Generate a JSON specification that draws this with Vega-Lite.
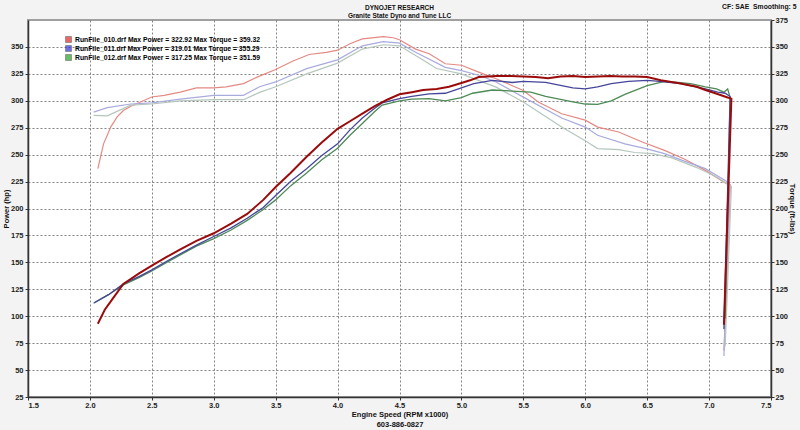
{
  "$schema": "https://vega.github.io/schema/vega-lite/v6.json",
  "width": 743,
  "height": 377,
  "autosize": {"type": "none"},
  "padding": {"left": 28, "top": 20, "right": 29, "bottom": 33},
  "background": "#f3f3f3",
  "title": {
    "text": "DYNOJET RESEARCH",
    "subtitle": "Granite State Dyno and Tune LLC",
    "anchor": "middle",
    "font": "Liberation Sans",
    "fontSize": 6.5,
    "fontWeight": "bold",
    "color": "#111",
    "lineHeight": 8,
    "subtitleFont": "Liberation Sans",
    "subtitleFontSize": 6.5,
    "subtitleFontWeight": "bold",
    "subtitleColor": "#111",
    "subtitleLineHeight": 8,
    "subtitlePadding": 1,
    "offset": 1,
    "dy": 17
  },
  "data": {
    "values": [
      {"s":"T010","r":2.064,"v":237},{"s":"T010","r":2.11,"v":260},{"s":"T010","r":2.17,"v":276},{"s":"T010","r":2.22,"v":285},{"s":"T010","r":2.27,"v":291},{"s":"T010","r":2.33,"v":295},{"s":"T010","r":2.5,"v":303.5},{"s":"T010","r":2.6,"v":305},{"s":"T010","r":2.73,"v":308},{"s":"T010","r":2.86,"v":312},{"s":"T010","r":3.0,"v":312},{"s":"T010","r":3.1,"v":313},{"s":"T010","r":3.24,"v":316},{"s":"T010","r":3.35,"v":322},{"s":"T010","r":3.5,"v":329},{"s":"T010","r":3.64,"v":337},{"s":"T010","r":3.77,"v":343},{"s":"T010","r":3.91,"v":345},{"s":"T010","r":4.0,"v":347},{"s":"T010","r":4.1,"v":353},{"s":"T010","r":4.2,"v":357.5},{"s":"T010","r":4.37,"v":359.5},{"s":"T010","r":4.45,"v":358.5},{"s":"T010","r":4.5,"v":356.7},{"s":"T010","r":4.63,"v":348},{"s":"T010","r":4.74,"v":343.7},{"s":"T010","r":4.87,"v":334.4},{"s":"T010","r":5.0,"v":333},{"s":"T010","r":5.14,"v":326.6},{"s":"T010","r":5.28,"v":320.5},{"s":"T010","r":5.5,"v":309.6},{"s":"T010","r":5.62,"v":298.8},{"s":"T010","r":5.81,"v":288},{"s":"T010","r":6.0,"v":282},{"s":"T010","r":6.1,"v":275.6},{"s":"T010","r":6.27,"v":271},{"s":"T010","r":6.46,"v":261.7},{"s":"T010","r":6.64,"v":254},{"s":"T010","r":6.8,"v":246},{"s":"T010","r":6.97,"v":235.4},{"s":"T010","r":7.14,"v":223},{"s":"T010","r":7.17,"v":222},{"s":"T010","r":7.12,"v":68},
      {"s":"T011","r":2.03,"v":289.5},{"s":"T011","r":2.14,"v":293.6},{"s":"T011","r":2.33,"v":297},{"s":"T011","r":2.5,"v":298},{"s":"T011","r":2.73,"v":301.5},{"s":"T011","r":3.0,"v":305},{"s":"T011","r":3.24,"v":305},{"s":"T011","r":3.37,"v":313},{"s":"T011","r":3.5,"v":317.5},{"s":"T011","r":3.75,"v":329.8},{"s":"T011","r":4.0,"v":338},{"s":"T011","r":4.2,"v":351},{"s":"T011","r":4.37,"v":355},{"s":"T011","r":4.5,"v":353.5},{"s":"T011","r":4.63,"v":345},{"s":"T011","r":4.87,"v":331},{"s":"T011","r":5.0,"v":328},{"s":"T011","r":5.14,"v":323.7},{"s":"T011","r":5.28,"v":317.4},{"s":"T011","r":5.5,"v":303.4},{"s":"T011","r":5.81,"v":284},{"s":"T011","r":6.0,"v":275.6},{"s":"T011","r":6.1,"v":268},{"s":"T011","r":6.32,"v":260},{"s":"T011","r":6.49,"v":255.6},{"s":"T011","r":6.64,"v":251},{"s":"T011","r":6.8,"v":244},{"s":"T011","r":6.97,"v":237},{"s":"T011","r":7.15,"v":224.6},{"s":"T011","r":7.17,"v":222},{"s":"T011","r":7.12,"v":63},
      {"s":"T012","r":2.03,"v":286.5},{"s":"T012","r":2.14,"v":286},{"s":"T012","r":2.33,"v":296},{"s":"T012","r":2.5,"v":297},{"s":"T012","r":2.73,"v":300},{"s":"T012","r":3.0,"v":301},{"s":"T012","r":3.24,"v":301},{"s":"T012","r":3.37,"v":307.8},{"s":"T012","r":3.5,"v":313},{"s":"T012","r":3.75,"v":325},{"s":"T012","r":4.0,"v":335},{"s":"T012","r":4.2,"v":348},{"s":"T012","r":4.37,"v":352},{"s":"T012","r":4.5,"v":351},{"s":"T012","r":4.63,"v":342},{"s":"T012","r":4.8,"v":330},{"s":"T012","r":5.0,"v":325},{"s":"T012","r":5.28,"v":312.7},{"s":"T012","r":5.5,"v":298.8},{"s":"T012","r":5.81,"v":275.6},{"s":"T012","r":6.0,"v":263},{"s":"T012","r":6.1,"v":255.6},{"s":"T012","r":6.27,"v":254.6},{"s":"T012","r":6.4,"v":252},{"s":"T012","r":6.54,"v":251},{"s":"T012","r":6.7,"v":247},{"s":"T012","r":6.9,"v":238},{"s":"T012","r":7.05,"v":230},{"s":"T012","r":7.18,"v":220.6},{"s":"T012","r":7.13,"v":72},
      {"s":"P012","r":2.04,"v":113},{"s":"P012","r":2.15,"v":120},{"s":"P012","r":2.27,"v":129},{"s":"P012","r":2.4,"v":136},{"s":"P012","r":2.5,"v":142},{"s":"P012","r":2.62,"v":150},{"s":"P012","r":2.73,"v":157},{"s":"P012","r":2.86,"v":165},{"s":"P012","r":3.0,"v":172},{"s":"P012","r":3.14,"v":180},{"s":"P012","r":3.27,"v":189},{"s":"P012","r":3.4,"v":199},{"s":"P012","r":3.5,"v":208},{"s":"P012","r":3.62,"v":221},{"s":"P012","r":3.75,"v":233},{"s":"P012","r":3.87,"v":245},{"s":"P012","r":4.0,"v":256},{"s":"P012","r":4.1,"v":268},{"s":"P012","r":4.2,"v":279},{"s":"P012","r":4.3,"v":290},{"s":"P012","r":4.36,"v":296},{"s":"P012","r":4.5,"v":300},{"s":"P012","r":4.6,"v":301.5},{"s":"P012","r":4.74,"v":302},{"s":"P012","r":4.87,"v":300},{"s":"P012","r":5.0,"v":303},{"s":"P012","r":5.09,"v":307},{"s":"P012","r":5.25,"v":310},{"s":"P012","r":5.41,"v":309},{"s":"P012","r":5.56,"v":308},{"s":"P012","r":5.68,"v":304},{"s":"P012","r":5.81,"v":301},{"s":"P012","r":5.9,"v":299},{"s":"P012","r":6.0,"v":297},{"s":"P012","r":6.1,"v":296.6},{"s":"P012","r":6.21,"v":300},{"s":"P012","r":6.32,"v":306},{"s":"P012","r":6.5,"v":314},{"s":"P012","r":6.64,"v":318},{"s":"P012","r":6.75,"v":317},{"s":"P012","r":6.85,"v":316},{"s":"P012","r":6.97,"v":313},{"s":"P012","r":7.06,"v":311},{"s":"P012","r":7.12,"v":308},{"s":"P012","r":7.15,"v":311},{"s":"P012","r":7.17,"v":303},{"s":"P012","r":7.13,"v":98},
      {"s":"P011","r":2.03,"v":112},{"s":"P011","r":2.15,"v":120},{"s":"P011","r":2.27,"v":130},{"s":"P011","r":2.4,"v":137},{"s":"P011","r":2.5,"v":143},{"s":"P011","r":2.62,"v":151},{"s":"P011","r":2.73,"v":158},{"s":"P011","r":2.86,"v":166},{"s":"P011","r":3.0,"v":174},{"s":"P011","r":3.14,"v":182},{"s":"P011","r":3.27,"v":191},{"s":"P011","r":3.4,"v":201},{"s":"P011","r":3.5,"v":212},{"s":"P011","r":3.62,"v":225},{"s":"P011","r":3.75,"v":237},{"s":"P011","r":3.87,"v":249},{"s":"P011","r":4.0,"v":260},{"s":"P011","r":4.1,"v":273},{"s":"P011","r":4.2,"v":284},{"s":"P011","r":4.3,"v":293},{"s":"P011","r":4.36,"v":298},{"s":"P011","r":4.5,"v":302},{"s":"P011","r":4.6,"v":304},{"s":"P011","r":4.74,"v":306.5},{"s":"P011","r":4.87,"v":307},{"s":"P011","r":5.0,"v":312},{"s":"P011","r":5.1,"v":316},{"s":"P011","r":5.25,"v":319},{"s":"P011","r":5.41,"v":317},{"s":"P011","r":5.5,"v":318},{"s":"P011","r":5.68,"v":317},{"s":"P011","r":5.81,"v":314},{"s":"P011","r":5.9,"v":312},{"s":"P011","r":6.0,"v":311},{"s":"P011","r":6.1,"v":313},{"s":"P011","r":6.21,"v":316},{"s":"P011","r":6.35,"v":318},{"s":"P011","r":6.5,"v":319},{"s":"P011","r":6.6,"v":318},{"s":"P011","r":6.77,"v":316},{"s":"P011","r":6.97,"v":311},{"s":"P011","r":7.07,"v":308},{"s":"P011","r":7.13,"v":307},{"s":"P011","r":7.17,"v":304},{"s":"P011","r":7.12,"v":88},
      {"s":"P010","r":2.064,"v":93},{"s":"P010","r":2.12,"v":106},{"s":"P010","r":2.17,"v":114},{"s":"P010","r":2.27,"v":130},{"s":"P010","r":2.4,"v":140},{"s":"P010","r":2.5,"v":147},{"s":"P010","r":2.62,"v":155},{"s":"P010","r":2.73,"v":162},{"s":"P010","r":2.86,"v":170},{"s":"P010","r":3.0,"v":177},{"s":"P010","r":3.14,"v":186},{"s":"P010","r":3.27,"v":195},{"s":"P010","r":3.4,"v":208},{"s":"P010","r":3.5,"v":220},{"s":"P010","r":3.62,"v":233},{"s":"P010","r":3.75,"v":248},{"s":"P010","r":3.87,"v":261},{"s":"P010","r":4.0,"v":274},{"s":"P010","r":4.1,"v":281},{"s":"P010","r":4.2,"v":288},{"s":"P010","r":4.3,"v":295},{"s":"P010","r":4.4,"v":301},{"s":"P010","r":4.5,"v":306},{"s":"P010","r":4.6,"v":308},{"s":"P010","r":4.69,"v":310},{"s":"P010","r":4.8,"v":311},{"s":"P010","r":4.9,"v":313},{"s":"P010","r":5.0,"v":316.5},{"s":"P010","r":5.07,"v":319},{"s":"P010","r":5.14,"v":322},{"s":"P010","r":5.28,"v":323},{"s":"P010","r":5.4,"v":323},{"s":"P010","r":5.5,"v":322.5},{"s":"P010","r":5.6,"v":322},{"s":"P010","r":5.7,"v":321},{"s":"P010","r":5.8,"v":322.5},{"s":"P010","r":5.9,"v":323},{"s":"P010","r":6.0,"v":322},{"s":"P010","r":6.1,"v":322.5},{"s":"P010","r":6.2,"v":323},{"s":"P010","r":6.3,"v":322.5},{"s":"P010","r":6.4,"v":322.5},{"s":"P010","r":6.5,"v":322},{"s":"P010","r":6.61,"v":319},{"s":"P010","r":6.77,"v":316},{"s":"P010","r":6.9,"v":313},{"s":"P010","r":6.97,"v":310},{"s":"P010","r":7.05,"v":307},{"s":"P010","r":7.15,"v":303},{"s":"P010","r":7.18,"v":302},{"s":"P010","r":7.12,"v":92}
    ]
  },
  "layer": [
    {
      "transform": [{"filter": "datum.s[0] === 'T'"}],
      "mark": {"type": "line", "strokeWidth": 1.2},
      "encoding": {
        "x": {"field": "r", "type": "quantitative", "scale": {"domain": [1.5, 7.5], "nice": false, "zero": false}, "axis": null},
        "y": {
          "field": "v", "type": "quantitative",
          "scale": {"domain": [25, 375], "nice": false, "zero": false},
          "axis": {"orient": "right", "values": [25,50,75,100,125,150,175,200,225,250,275,300,325,350,375], "title": "Torque (ft-lbs)", "grid": false, "tickSize": 3, "labelPadding": 1, "titlePadding": 0}
        },
        "stroke": {
          "field": "s", "type": "nominal",
          "scale": {"domain": ["T010","T011","T012","P010","P011","P012"], "range": ["#e48a84","#a9abdd","#b5c7bd","#9a0c0c","#45459a","#4e8a55"]},
          "legend": null
        },
        "order": {"value": null}
      }
    },
    {
      "transform": [{"filter": "datum.s[0] === 'P'"}],
      "mark": {"type": "line"},
      "encoding": {
        "x": {
          "field": "r", "type": "quantitative",
          "axis": {"orient": "bottom", "values": [1.5,2,2.5,3,3.5,4,4.5,5,5.5,6,6.5,7,7.5], "format": ".1f", "grid": true, "tickSize": 3, "labelPadding": 1, "title": ["Engine Speed (RPM x1000)", "603-886-0827"], "titleLineHeight": 10, "titlePadding": 2}
        },
        "y": {
          "field": "v", "type": "quantitative",
          "axis": {"orient": "left", "values": [25,50,75,100,125,150,175,200,225,250,275,300,325,350], "title": "Power (hp)", "grid": true, "tickSize": 3, "labelPadding": 2, "titlePadding": 0}
        },
        "stroke": {"field": "s", "type": "nominal", "legend": null},
        "strokeWidth": {"condition": {"test": "datum.s === 'P010'", "value": 2}, "value": 1.3},
        "order": {"value": null}
      }
    },
    {
      "transform": [{"filter": "false"}],
      "mark": {"type": "square"},
      "encoding": {
        "x": {
          "field": "r", "type": "quantitative",
          "axis": {"orient": "top", "labels": false, "ticks": false, "domain": false, "grid": false, "title": "CF: SAE\u00a0\u00a0Smoothing: 5", "titleAnchor": "end", "titleAlign": "right", "titleBaseline": "top", "titleX": 768, "titleY": -17, "titleFontSize": 6.8}
        },
        "fill": {
          "field": "leg", "type": "nominal",
          "scale": {
            "domain": ["RunFile_010.drf Max Power = 322.92 Max Torque = 359.32", "RunFile_011.drf Max Power = 319.01 Max Torque = 355.29", "RunFile_012.drf Max Power = 317.25 Max Torque = 351.59"],
            "range": ["#e02828", "#3434d8", "#28a028"]
          },
          "legend": {
            "orient": "none", "legendX": 37, "legendY": 16, "title": null,
            "symbolType": "square", "symbolSize": 36, "symbolStrokeColor": "#333", "symbolStrokeWidth": 0.6,
            "labelFont": "Liberation Sans", "labelFontSize": 6.8, "labelFontWeight": "bold", "labelColor": "#000",
            "labelOffset": 3, "rowPadding": 0, "labelLimit": 400
          }
        }
      }
    }
  ],
  "config": {
    "view": {"fill": "#ffffff", "stroke": "#a0a0a0", "strokeWidth": 2},
    "axis": {
      "labelFont": "Liberation Sans", "labelFontSize": 7.5, "labelFontWeight": "bold", "labelColor": "#222",
      "titleFont": "Liberation Sans", "titleFontSize": 7.5, "titleFontWeight": "bold", "titleColor": "#111",
      "domainColor": "#333", "domainWidth": 1.5, "tickColor": "#333",
      "gridColor": "#666", "gridDash": [2, 2], "gridWidth": 0.8, "gridOpacity": 1
    }
  }
}
